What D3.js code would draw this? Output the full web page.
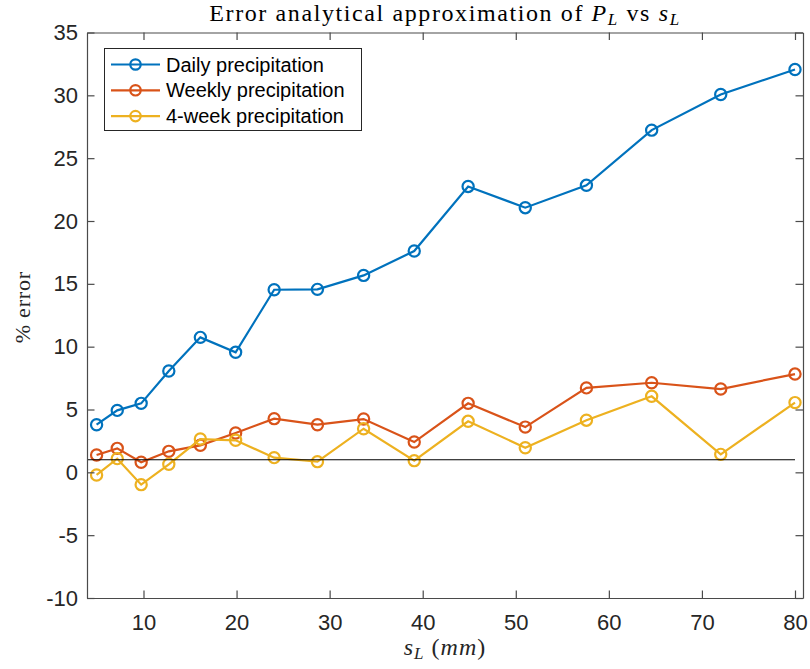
<!DOCTYPE html>
<html>
<head>
<meta charset="utf-8">
<script src="https://cdn.jsdelivr.net/npm/d3@7"></script>
<style>
  body { margin: 0; background: #fff; }
  svg { display: block; }
</style>
</head>
<body>
<svg id="chart" width="810" height="669"></svg>
<script>
// Storage threshold s_L (mm)
const sL = [4.96, 7.18, 9.75, 12.72, 16.11, 19.9, 24.04, 28.69, 33.65, 39.09, 44.88, 51.02, 57.59, 64.6, 72.02, 80];
// Percentage error of the analytical approximation for each aggregation
const daily  = [3.79, 4.93, 5.49, 8.06, 10.74, 9.55, 14.53, 14.56, 15.67, 17.61, 22.75, 21.06, 22.84, 27.23, 30.07, 32.06];
const weekly = [1.38, 1.91, 0.80, 1.67, 2.15, 3.13, 4.27, 3.79, 4.24, 2.41, 5.49, 3.60, 6.72, 7.13, 6.63, 7.82];
const fourWeek = [-0.21, 1.09, -0.98, 0.64, 2.65, 2.55, 1.17, 0.85, 3.47, 0.93, 4.06, 1.96, 4.15, 6.05, 1.43, 5.55];
const seriesNames = ["Daily precipitation", "Weekly precipitation", "4-week precipitation"];
const seriesColors = ["#0072BD", "#D95319", "#EDB120"];
const xTicks = [10, 20, 30, 40, 50, 60, 70, 80];
const yTicks = [-10, -5, 0, 5, 10, 15, 20, 25, 30, 35];
const refLevel = 1;          // reference line y value
const refSpan = [4, 80];     // reference line x extent

const svg = d3.select("#chart");
const plotL = 87, plotR = 803, plotT = 32.5, plotB = 598;

const x = d3.scaleLinear().domain([3.93, 80.86]).range([plotL, plotR]);
const y = d3.scaleLinear().domain([-10, 35]).range([plotB, plotT]);

const axisColor = "#4a4a4a";
const tickFont = "'Liberation Sans', Arial, Helvetica, sans-serif";
const serif = "'Liberation Serif', 'Times New Roman', serif";
const plainNum = d => String(d);   // hyphen-minus for negatives

// Series
const allSeries = [daily, weekly, fourWeek];
const line = d3.line().x(d => x(d[0])).y(d => y(d[1]));
allSeries.forEach((vals, i) => {
  const pts = sL.map((s, j) => [s, vals[j]]);
  const g = svg.append("g");
  g.append("path").datum(pts)
    .attr("d", line)
    .attr("fill", "none")
    .attr("stroke", seriesColors[i])
    .attr("stroke-width", 2.2);
  g.selectAll("circle").data(pts).join("circle")
    .attr("cx", d => x(d[0])).attr("cy", d => y(d[1]))
    .attr("r", 5.6)
    .attr("fill", "none")
    .attr("stroke", seriesColors[i])
    .attr("stroke-width", 2.2);
});

// Reference line
svg.append("line")
  .attr("x1", x(refSpan[0])).attr("x2", x(refSpan[1]))
  .attr("y1", y(refLevel)).attr("y2", y(refLevel))
  .attr("stroke", "#000").attr("stroke-width", 1.2);

// Axes (box with ticks on all sides, pointing inward)
const tl = 7.5;
const gx = svg.append("g").attr("transform", `translate(0,${plotB})`)
  .call(d3.axisBottom(x).tickValues(xTicks).tickFormat(plainNum).tickSizeInner(-tl).tickSizeOuter(0).tickPadding(16));
const gxt = svg.append("g").attr("transform", `translate(0,${plotT})`)
  .call(d3.axisTop(x).tickValues(xTicks).tickSizeInner(-tl).tickSizeOuter(0).tickFormat(""));
const gy = svg.append("g").attr("transform", `translate(${plotL},0)`)
  .call(d3.axisLeft(y).tickValues(yTicks).tickFormat(plainNum).tickSizeInner(-tl).tickSizeOuter(0).tickPadding(9));
const gyr = svg.append("g").attr("transform", `translate(${plotR},0)`)
  .call(d3.axisRight(y).tickValues(yTicks).tickSizeInner(-tl).tickSizeOuter(0).tickFormat(""));

[gx, gxt, gy, gyr].forEach(g => {
  g.selectAll(".domain").attr("stroke", axisColor).attr("stroke-width", 1.2);
  g.selectAll(".tick line").attr("stroke", axisColor).attr("stroke-width", 1.2);
  g.selectAll("text").attr("fill", "#262626")
    .style("font-family", tickFont).style("font-size", "22px");
});

// Title
const title = svg.append("text")
  .attr("x", (plotL + plotR) / 2).attr("y", 21)
  .attr("text-anchor", "middle")
  .style("font-family", serif).style("font-size", "24px")
  .style("letter-spacing", "1.6px").attr("fill", "#000");
title.append("tspan").text("Error analytical approximation of ");
title.append("tspan").style("font-style", "italic").text("P");
title.append("tspan").style("font-style", "italic").style("font-size", "17px").attr("dy", 4).text("L");
title.append("tspan").attr("dy", -4).text(" vs ");
title.append("tspan").style("font-style", "italic").text("s");
title.append("tspan").style("font-style", "italic").style("font-size", "17px").attr("dy", 4).text("L");

// X label
const xl = svg.append("text")
  .attr("x", (plotL + plotR) / 2).attr("y", 655)
  .attr("text-anchor", "middle")
  .style("font-family", serif).style("font-size", "24px")
  .style("letter-spacing", "1px").attr("fill", "#262626");
xl.append("tspan").style("font-style", "italic").text("s");
xl.append("tspan").style("font-style", "italic").style("font-size", "17px").attr("dy", 4).text("L");
xl.append("tspan").attr("dy", -4).text(" (");
xl.append("tspan").style("font-style", "italic").text("mm");
xl.append("tspan").text(")");

// Y label
svg.append("text")
  .attr("transform", `translate(30,${(plotT + plotB) / 2 - 8}) rotate(-90)`)
  .attr("text-anchor", "middle")
  .style("font-family", serif).style("font-size", "22px")
  .style("letter-spacing", "0.8px").attr("fill", "#262626")
  .text("% error");

// Legend
const lg = svg.append("g");
lg.append("rect")
  .attr("x", 104.5).attr("y", 48.5).attr("width", 257).attr("height", 82)
  .attr("fill", "#fff").attr("stroke", "#262626").attr("stroke-width", 1);
seriesNames.forEach((name, i) => {
  const cy = 64.5 + i * 25.8;
  lg.append("line").attr("x1", 111).attr("x2", 160).attr("y1", cy).attr("y2", cy)
    .attr("stroke", seriesColors[i]).attr("stroke-width", 2.2);
  lg.append("circle").attr("cx", 135.5).attr("cy", cy).attr("r", 5.2)
    .attr("fill", "none").attr("stroke", seriesColors[i]).attr("stroke-width", 2.2);
  lg.append("text").attr("x", 166).attr("y", cy).attr("dy", "0.35em")
    .style("font-family", tickFont).style("font-size", "20px").attr("fill", "#000")
    .text(name);
});
</script>
</body>
</html>
